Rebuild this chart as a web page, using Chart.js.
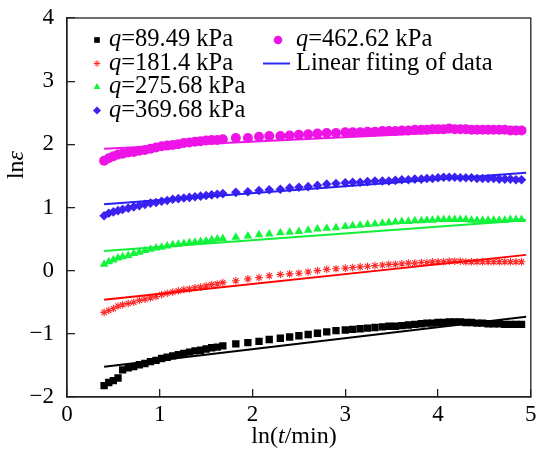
<!DOCTYPE html>
<html>
<head>
<meta charset="utf-8">
<script src="https://cdn.jsdelivr.net/npm/chart.js@4.4.1/dist/chart.umd.min.js"></script>
<style>
  html, body { margin: 0; padding: 0; background: #fff; }
</style>
</head>
<body>
<canvas id="creep-chart" width="536" height="450"></canvas>
<script>
// ln(t/min) sampling times, shared by all five load levels
const lnT = [0.40, 0.45, 0.50, 0.55, 0.60, 0.66, 0.72, 0.78, 0.84, 0.90, 0.96, 1.02, 1.08, 1.14, 1.20, 1.26, 1.32, 1.38, 1.44, 1.50, 1.56, 1.62, 1.68,
  1.82, 1.95, 2.07, 2.18, 2.30, 2.40, 2.50, 2.60, 2.70, 2.80, 2.90, 3.00,
  3.08, 3.16, 3.24, 3.32, 3.40, 3.47, 3.54, 3.61, 3.68, 3.75, 3.82, 3.88, 3.94, 4.00, 4.06, 4.12, 4.18, 4.24, 4.30, 4.36, 4.42, 4.48, 4.54, 4.60, 4.66, 4.72, 4.78, 4.84, 4.90];

// ln(strain) for each load
const q89 = [-1.82, -1.77, -1.74, -1.70, -1.57, -1.54, -1.52, -1.49, -1.47, -1.44, -1.42, -1.39, -1.37, -1.35, -1.33, -1.31, -1.29, -1.27, -1.26, -1.24, -1.22, -1.21, -1.19,
  -1.16, -1.14, -1.12, -1.09, -1.07, -1.05, -1.03, -1.01, -0.99, -0.97, -0.95, -0.94,
  -0.93, -0.92, -0.91, -0.90, -0.89, -0.88, -0.88, -0.87, -0.86, -0.85, -0.84, -0.83, -0.83, -0.82, -0.82, -0.81, -0.81, -0.81, -0.82, -0.82, -0.83, -0.83, -0.84, -0.84, -0.84, -0.85, -0.85, -0.85, -0.85];
const q181 = [-0.66, -0.63, -0.60, -0.56, -0.54, -0.52, -0.50, -0.47, -0.45, -0.43, -0.41, -0.38, -0.36, -0.34, -0.32, -0.30, -0.29, -0.27, -0.26, -0.24, -0.22, -0.21, -0.19,
  -0.16, -0.13, -0.11, -0.08, -0.06, -0.05, -0.04, -0.02, 0.00, 0.02, 0.03, 0.04,
  0.05, 0.06, 0.07, 0.08, 0.09, 0.10, 0.10, 0.11, 0.12, 0.12, 0.13, 0.13, 0.14, 0.14, 0.14, 0.15, 0.15, 0.15, 0.14, 0.14, 0.14, 0.14, 0.14, 0.14, 0.14, 0.14, 0.14, 0.14, 0.14];
const q275 = [0.10, 0.14, 0.17, 0.20, 0.22, 0.24, 0.27, 0.29, 0.32, 0.34, 0.36, 0.37, 0.39, 0.41, 0.42, 0.43, 0.44, 0.45, 0.46, 0.47, 0.49, 0.50, 0.51,
  0.53, 0.55, 0.57, 0.58, 0.60, 0.61, 0.62, 0.64, 0.66, 0.67, 0.68, 0.70,
  0.71, 0.72, 0.73, 0.74, 0.75, 0.76, 0.77, 0.78, 0.78, 0.79, 0.79, 0.80, 0.80, 0.81, 0.81, 0.81, 0.81, 0.81, 0.81, 0.80, 0.80, 0.80, 0.80, 0.80, 0.80, 0.80, 0.81, 0.81, 0.81];
const q369 = [0.87, 0.91, 0.93, 0.95, 0.97, 0.99, 1.01, 1.03, 1.05, 1.07, 1.08, 1.10, 1.11, 1.13, 1.14, 1.15, 1.16, 1.17, 1.18, 1.19, 1.20, 1.21, 1.22,
  1.24, 1.25, 1.27, 1.28, 1.29, 1.31, 1.32, 1.33, 1.35, 1.37, 1.38, 1.39,
  1.40, 1.40, 1.41, 1.42, 1.42, 1.42, 1.43, 1.44, 1.44, 1.45, 1.45, 1.46, 1.46, 1.47, 1.48, 1.48, 1.48, 1.47, 1.47, 1.47, 1.46, 1.46, 1.46, 1.46, 1.45, 1.45, 1.45, 1.44, 1.44];
const q462 = [1.74, 1.78, 1.81, 1.84, 1.85, 1.87, 1.88, 1.90, 1.91, 1.93, 1.95, 1.97, 1.98, 1.99, 2.00, 2.02, 2.03, 2.04, 2.05, 2.06, 2.07, 2.07, 2.08,
  2.10, 2.10, 2.12, 2.13, 2.13, 2.14, 2.15, 2.16, 2.17, 2.18, 2.18, 2.19,
  2.19, 2.19, 2.20, 2.20, 2.21, 2.21, 2.21, 2.22, 2.22, 2.23, 2.23, 2.23, 2.24, 2.24, 2.24, 2.25, 2.24, 2.24, 2.24, 2.23, 2.23, 2.23, 2.23, 2.23, 2.23, 2.23, 2.22, 2.22, 2.22];

// straight-line fits, end points
const fitX = [0.40, 4.95];
const fit89 = [-1.52, -0.73];
const fit181 = [-0.46, 0.25];
const fit275 = [0.31, 0.80];
const fit369 = [1.05, 1.55];
const fit462 = [1.93, 2.25];

const loads = ["89.49", "181.4", "275.68", "369.68", "462.62"];
const fitLabel = "Linear fiting of data";

const seriesY = [q89, q181, q275, q369, q462];
const fitY = [fit89, fit181, fit275, fit369, fit462];

const colors = ["#000000", "#ff2a2a", "#14f43c", "#3b22f0", "#ee14e6"];
const lineColors = ["#000000", "#ff0000", "#10f038", "#2a1ef0", "#ee14e6"];
const markers = [
  { pointStyle: "rect", radius: 5.2 },
  { pointStyle: "star", radius: 3.8 },
  { pointStyle: "triangle", radius: 5 },
  { pointStyle: "rectRot", radius: 4.8 },
  { pointStyle: "circle", radius: 5 }
];

const SERIF = "'Liberation Serif', 'Times New Roman', serif";
const AXIS = "#222";
const KEY_FONT = 24.5;
const TITLE_FONT = 24;

const datasets = [];
seriesY.forEach((ys, i) => {
  datasets.push({
    label: "q=" + loads[i] + " kPa",
    data: lnT.map((x, k) => ({ x: x, y: ys[k] })),
    pointStyle: markers[i].pointStyle,
    pointRadius: markers[i].radius,
    pointBackgroundColor: colors[i],
    pointBorderColor: colors[i],
    pointBorderWidth: markers[i].pointStyle === "star" ? 1.1 : 0,
    showLine: false,
    order: 2
  });
});
fitY.forEach((ys, i) => {
  datasets.push({
    label: fitLabel,
    type: "line",
    data: fitX.map((x, k) => ({ x: x, y: ys[k] })),
    borderColor: lineColors[i],
    borderWidth: 2,
    pointRadius: 0,
    fill: false,
    order: 1
  });
});

// draws normal/italic pieces one after another from x
function mixedText(ctx, parts, x, y, size) {
  parts.forEach(p => {
    ctx.font = (p.it ? "italic " : "") + size + "px " + SERIF;
    ctx.fillText(p.s, x, y);
    x += ctx.measureText(p.s).width;
  });
}
function mixedWidth(ctx, parts, size) {
  let w = 0;
  parts.forEach(p => {
    ctx.font = (p.it ? "italic " : "") + size + "px " + SERIF;
    w += ctx.measureText(p.s).width;
  });
  return w;
}

// frame, axis titles and the two-column key inside the plot
const decorations = {
  id: "decorations",
  afterDraw(chart) {
    const ctx = chart.ctx;
    const a = chart.chartArea;
    ctx.save();

    ctx.strokeStyle = AXIS;
    ctx.lineWidth = 1.3;
    ctx.strokeRect(a.left, a.top, a.right - a.left, a.bottom - a.top);

    ctx.fillStyle = "#000";
    ctx.textBaseline = "alphabetic";
    ctx.textAlign = "left";

    // x title: ln(t/min)
    const xt = [{ s: "ln(" }, { s: "t", it: true }, { s: "/min)" }];
    mixedText(ctx, xt, 294 - mixedWidth(ctx, xt, TITLE_FONT) / 2, 443, TITLE_FONT);

    // y title: lnε
    ctx.save();
    ctx.translate(23, 165);
    ctx.rotate(-Math.PI / 2);
    const yt = [{ s: "ln" }, { s: "ε", it: true }];
    mixedText(ctx, yt, -mixedWidth(ctx, yt, TITLE_FONT) / 2, 0, TITLE_FONT);
    ctx.restore();

    // key
    const rowH = 23.5;
    const cols = [
      { mx: a.left + 30, tx: a.left + 42, y0: a.top + 22 },
      { mx: a.left + 211, tx: a.left + 229, y0: a.top + 22 }
    ];
    const entries = [];
    loads.forEach((q, i) => {
      entries.push({ col: i < 4 ? 0 : 1, row: i < 4 ? i : 0, kind: "point", i: i });
    });
    entries.push({ col: 1, row: 1, kind: "line" });

    ctx.textBaseline = "middle";
    entries.forEach(e => {
      const c = cols[e.col];
      const y = c.y0 + e.row * rowH;
      if (e.kind === "point") {
        const m = markers[e.i];
        ctx.fillStyle = colors[e.i];
        ctx.strokeStyle = colors[e.i];
        ctx.lineWidth = 1;
        const r = m.pointStyle === "circle" ? 4.3 : (m.pointStyle === "star" ? 3.3 : 4);
        Chart.helpers.drawPoint(ctx, { pointStyle: m.pointStyle, radius: r, rotation: 0, borderWidth: m.pointStyle === "star" ? 1 : 0 }, c.mx, y);
        ctx.fillStyle = "#000";
        mixedText(ctx, [{ s: "q", it: true }, { s: "=" + loads[e.i] + " kPa" }], c.tx, y, KEY_FONT);
      } else {
        ctx.strokeStyle = "#2a2af5";
        ctx.lineWidth = 2;
        ctx.beginPath();
        ctx.moveTo(c.mx - 15, y);
        ctx.lineTo(c.mx + 12, y);
        ctx.stroke();
        ctx.fillStyle = "#000";
        mixedText(ctx, [{ s: fitLabel }], c.tx, y, KEY_FONT);
      }
    });

    ctx.restore();
  }
};

const minusSign = v => String(v).replace("-", "\u2212");

new Chart(document.getElementById("creep-chart").getContext("2d"), {
  type: "scatter",
  data: { datasets: datasets },
  plugins: [decorations],
  options: {
    responsive: false,
    animation: false,
    events: [],
    layout: { padding: { top: 18, right: 5, left: 0, bottom: 0 } },
    plugins: {
      legend: { display: false },
      tooltip: { enabled: false }
    },
    scales: {
      x: {
        type: "linear",
        min: 0,
        max: 5,
        ticks: {
          stepSize: 1,
          color: "#000",
          font: { family: SERIF, size: 23 },
          padding: 12,
          maxRotation: 0,
          callback: v => minusSign(v)
        },
        grid: { drawOnChartArea: false, drawTicks: true, tickLength: -8, color: AXIS, lineWidth: 1.3 },
        border: { display: true, color: AXIS, width: 1.3 },
        afterFit(scale) {
          scale.height = 53;
          scale.paddingLeft = 0;
          scale.paddingRight = 0;
        }
      },
      y: {
        type: "linear",
        min: -2,
        max: 4,
        ticks: {
          stepSize: 1,
          color: "#000",
          font: { family: SERIF, size: 23 },
          padding: 21,
          callback: v => minusSign(v)
        },
        grid: { drawOnChartArea: false, drawTicks: true, tickLength: -8, color: AXIS, lineWidth: 1.3 },
        border: { display: true, color: AXIS, width: 1.3 },
        afterFit(scale) {
          scale.width = 67;
          scale.paddingTop = 0;
          scale.paddingBottom = 0;
        }
      }
    }
  }
});
</script>
</body>
</html>
